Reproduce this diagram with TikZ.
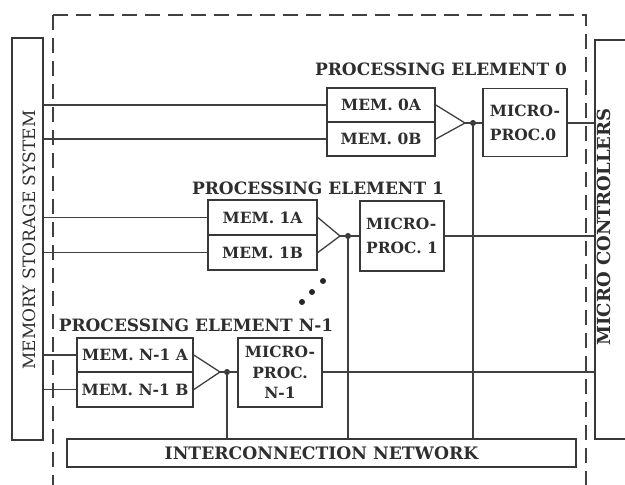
\documentclass[tikz,border=0pt]{standalone}
\usepackage{fontspec}
\setmainfont{DejaVu Serif}
\begin{document}
\begin{tikzpicture}[x=1pt,y=-1pt,
  ink/.style={draw=black!78, text=black!82},
  box/.style={ink, line width=1.7pt, inner sep=0pt, font=\bfseries\fontsize{15.5}{18}\selectfont},
  mpbox/.style={box, minimum width=84pt, font=\bfseries\fontsize{15.5}{24}\selectfont},
  wire/.style={draw=black!75, line width=1.3pt},
  border/.style={draw=black!75, line width=1.5pt, dash pattern=on 15pt off 8pt},
  pelabel/.style={text=black!82, inner sep=0pt, font=\bfseries\fontsize{17}{20}\selectfont},
  junction/.style={circle, fill=black!80, minimum size=6pt, inner sep=0pt},
  fardot/.style={circle, fill=black!85, minimum size=6pt, inner sep=0pt}]
\useasboundingbox[fill=white] (0,0) rectangle (625,485);

% dashed border
\draw[border] (53,15) -- (53,485);
\draw[border] (53,15) -- (586,15) -- (586,485);

% side boxes
\node[box, minimum width=31pt, minimum height=402pt] (mss) at (27.5,239) {};
\node[rotate=90, text=black!82, font=\fontsize{17}{20}\selectfont] (msstext) at (29,240) {MEMORY STORAGE SYSTEM};
\node[box, minimum width=45pt, minimum height=399pt] (mc) at (617.5,239.5) {};
\node[rotate=90, text=black!82, font=\bfseries\fontsize{18}{20}\selectfont] (mctext) at (604,227) {MICRO CONTROLLERS};

% interconnection network
\node[box, minimum width=509pt, minimum height=28pt, font=\bfseries\fontsize{17.2}{19}\selectfont] (ic) at (321.5,453) {INTERCONNECTION NETWORK};

% ---- PE 0
\node[pelabel] (pe0) at (441,69) {PROCESSING ELEMENT 0};
\node[box, minimum width=108pt, minimum height=34pt] (mem0a) at (381,105) {MEM. 0A};
\node[box, minimum width=108pt, minimum height=34pt] (mem0b) at (381,139) {MEM. 0B};
\node[mpbox, minimum height=68pt, align=left] (mp0) at (525,122.5) {MICRO-\\PROC.0};
\coordinate (t0) at (465,123);
\node[junction] (d0) at (473,123) {};
\draw[wire] (mem0a.east) -- (t0) -- (mem0b.east);
\draw[wire] (t0) -- (t0 -| mp0.west);
\draw[wire] (d0) -- (d0 |- ic.north);
\draw[wire] (mp0.east |- d0) -- (d0 -| mc.west);
\draw[wire] (mss.east |- mem0a.west) -- (mem0a.west);
\draw[wire] (mss.east |- mem0b.west) -- (mem0b.west);

% ---- PE 1
\node[pelabel] (pe1) at (318,188) {PROCESSING ELEMENT 1};
\node[box, minimum width=109pt, minimum height=35pt] (mem1a) at (262.5,217.5) {MEM. 1A};
\node[box, minimum width=109pt, minimum height=35pt] (mem1b) at (262.5,252.5) {MEM. 1B};
\node[mpbox, minimum height=70pt, align=left] (mp1) at (402,236) {MICRO-\\PROC. 1};
\coordinate (t1) at (340,236);
\node[junction] (d1) at (348,236) {};
\draw[wire] (mem1a.east) -- (t1) -- (mem1b.east);
\draw[wire] (t1) -- (t1 -| mp1.west);
\draw[wire] (d1) -- (d1 |- ic.north);
\draw[wire] (mp1.east |- d1) -- (d1 -| mc.west);
\draw[wire] (mss.east |- mem1a.west) -- (mem1a.west);
\draw[wire] (mss.east |- mem1b.west) -- (mem1b.west);

% ellipsis dots
\node[fardot] (e1) at (302,302) {};
\node[fardot] (e2) at (312,292) {};
\node[fardot] (e3) at (323,281) {};

% ---- PE N-1
\node[pelabel] (pen) at (196,325) {PROCESSING ELEMENT N-1};
\node[box, minimum width=116pt, minimum height=34pt] (memna) at (135,355) {MEM. N-1 A};
\node[box, minimum width=116pt, minimum height=35pt] (memnb) at (135,389.5) {MEM. N-1 B};
\node[mpbox, minimum height=69pt, align=center, font=\bfseries\fontsize{15.5}{20.5}\selectfont] (mpn) at (280,372.5) {MICRO-\\PROC.\\N-1};
\coordinate (tn) at (220,372);
\node[junction] (dn) at (227,372) {};
\draw[wire] (memna.east) -- (tn) -- (memnb.east);
\draw[wire] (tn) -- (tn -| mpn.west);
\draw[wire] (dn) -- (dn |- ic.north);
\draw[wire] (mpn.east |- dn) -- (dn -| mc.west);
\draw[wire] (mss.east |- memna.west) -- (memna.west);
\draw[wire] (mss.east |- memnb.west) -- (memnb.west);
\end{tikzpicture}
\end{document}
